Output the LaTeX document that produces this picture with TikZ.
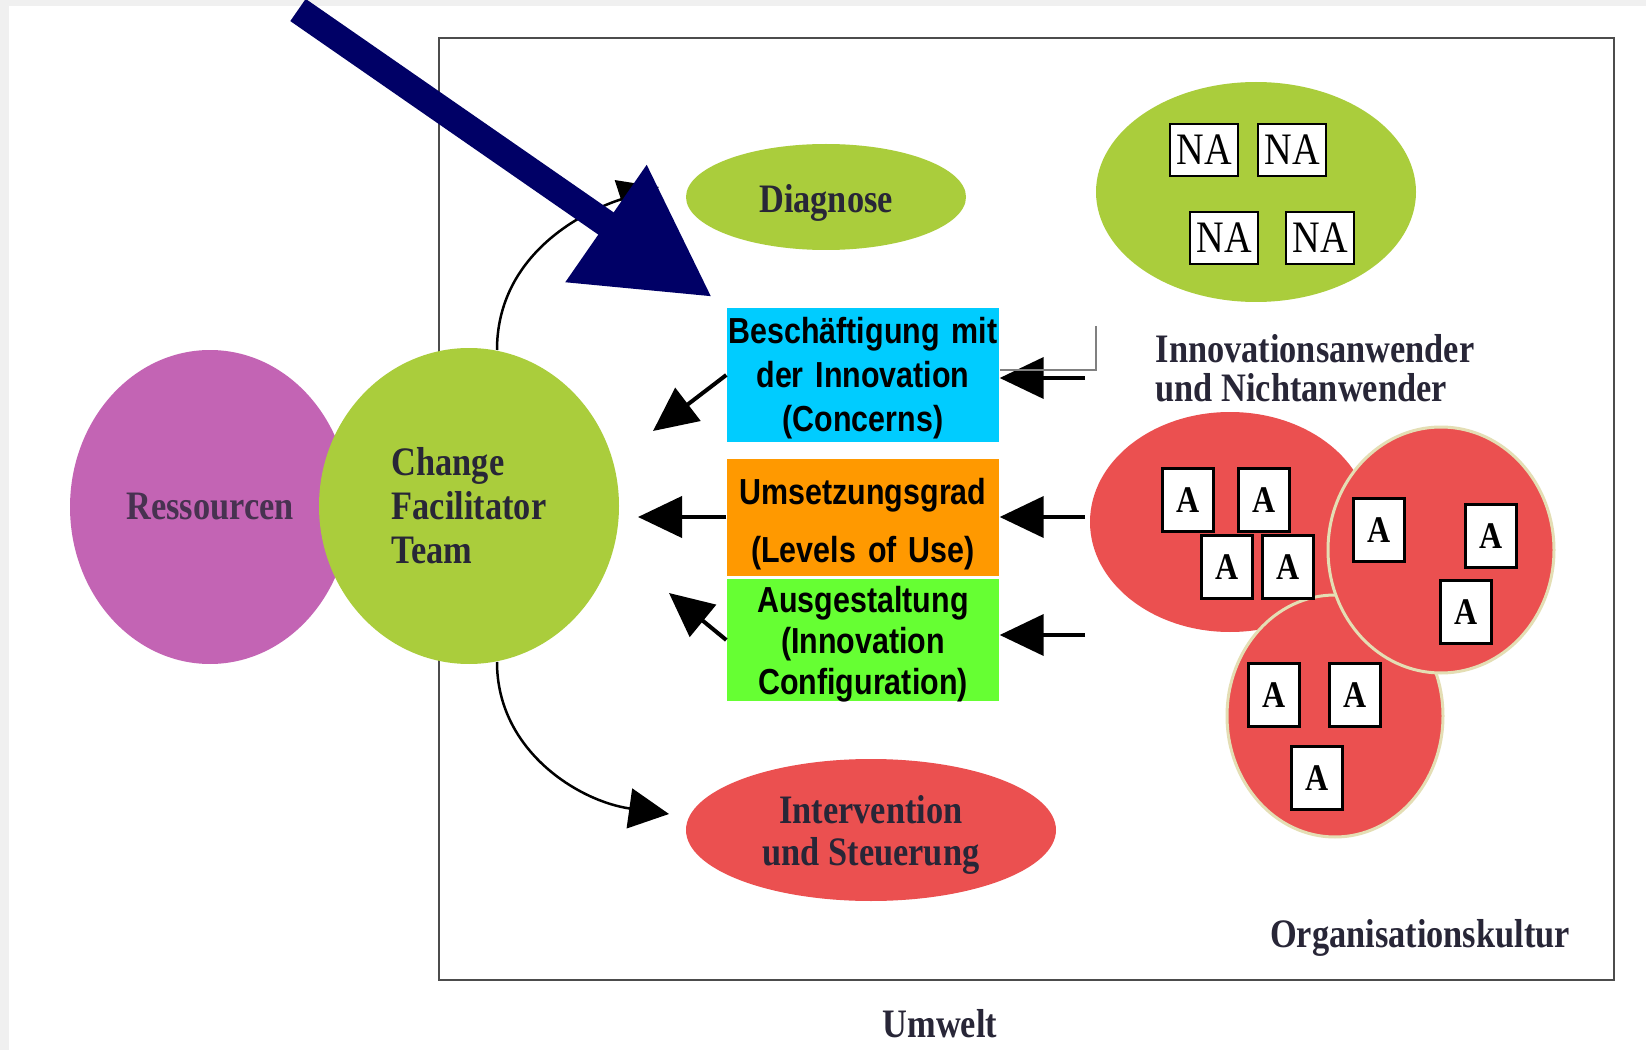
\documentclass[tikz,border=0pt]{standalone}
\usepackage{fontspec}
\setmainfont{Liberation Serif}[FakeStretch=0.85]
\newfontfamily\boxfont{Liberation Sans}[FakeStretch=0.84]
\usetikzlibrary{arrows.meta,shapes.geometric}
\definecolor{lila}{RGB}{195,100,180}
\definecolor{gelbgruen}{RGB}{170,205,60}
\definecolor{rot}{RGB}{235,80,80}
\definecolor{marine}{RGB}{0,0,102}
\definecolor{boxblau}{RGB}{0,204,255}
\definecolor{boxorange}{RGB}{255,153,0}
\definecolor{boxgruen}{RGB}{102,255,51}
\definecolor{schrift}{RGB}{40,38,55}
\definecolor{rand}{RGB}{228,222,180}
\begin{document}
\begin{tikzpicture}[x=0.1mm,y=-0.1mm,
  kreis/.style={ellipse,inner sep=0pt,text=schrift,font=\bfseries\fontsize{11.5}{12.5}\selectfont},
  gruppe/.style={ellipse,inner sep=0pt,fill=rot,draw=rand,line width=0.3mm},
  kasten/.style={draw=black,fill=white,line width=0.25mm,inner sep=0pt},
  nabox/.style={kasten,minimum width=6.8mm,minimum height=5.2mm,font=\fontsize{12.8}{13}\selectfont},
  abox/.style={kasten,minimum width=5.1mm,minimum height=6.3mm,font=\bfseries\fontsize{10.7}{11}\selectfont},
  feld/.style={inner sep=0pt,minimum width=27.2mm},
  feldtext/.style={inner sep=0pt,text width=27.2mm,align=center,font=\boxfont\bfseries\fontsize{10.3}{12.5}\selectfont},
  titel/.style={inner sep=0pt,text=schrift,font=\bfseries\fontsize{11.5}{11}\selectfont},
  pfeil/.style={line width=0.4mm,-{Triangle[length=4.4mm,width=4.1mm]}},
  bogen/.style={line width=0.25mm,-{Triangle[length=4mm,width=4mm]}}]
\useasboundingbox (0,0) rectangle (1646,1050);
\fill[gray!12] (0,0) rectangle (1646,1050);
\fill[white] (9,6) rectangle (1646,1050);

\draw[gray!60!black,line width=0.25mm] (439,38) rectangle (1614,980);

\coordinate (ob1) at (497,350);
\coordinate (ob2) at (659,187);
\coordinate (un1) at (497,662);
\coordinate (un2) at (669,814);
\draw[bogen] (ob1) to[out=90,in=198] (ob2);
\draw[bogen] (un1) to[out=-90,in=172] (un2);

\node[kreis,fill=lila,minimum width=28mm,minimum height=31.4mm,text=schrift!80!lila] (ress) at (210,507) {Ressourcen};
\node[kreis,fill=gelbgruen,minimum width=30mm,minimum height=31.6mm,align=left] (cft) at (469,506) {Change\\Facilitator\\Team};
\node[kreis,fill=gelbgruen,minimum width=28mm,minimum height=10.6mm] (diag) at (826,197) {};
\node[titel,yshift=-0.6mm] (diag-t) at (diag) {Diagnose};
\node[kreis,fill=rot,minimum width=37mm,minimum height=14.2mm] (interv) at (871,830) {};
\node[titel,yshift=-0.5mm,align=center,font=\bfseries\fontsize{11.5}{11.8}\selectfont] (interv-t) at (interv) {Intervention\\und Steuerung};

% Nichtanwender
\node[kreis,fill=gelbgruen,minimum width=32mm,minimum height=22mm] (nicht) at (1256,192) {};
\node[nabox] (na1) at (1204,150) {NA};
\node[nabox] (na2) at (1292,150) {NA};
\node[nabox] (na3) at (1224,238) {NA};
\node[nabox] (na4) at (1320,238) {NA};
\node[titel,anchor=west,align=left] (anw) at (1155,368) {Innovationsanwender\\und Nichtanwender};

% Anwender
\node[gruppe,draw=none,minimum width=28mm,minimum height=22mm] (gr1) at (1230,522) {};
\node[gruppe,minimum width=21.6mm,minimum height=24.2mm] (gr3) at (1335,716) {};
\node[gruppe,minimum width=22.6mm,minimum height=24.6mm] (gr2) at (1441,550) {};
\node[abox] (a1) at (1188,500) {A};
\node[abox] (a2) at (1264,500) {A};
\node[abox] (a3) at (1227,567) {A};
\node[abox] (a4) at (1288,567) {A};
\node[abox] (a5) at (1379,530) {A};
\node[abox] (a6) at (1491,536) {A};
\node[abox] (a7) at (1466,612) {A};
\node[abox] (a8) at (1274,695) {A};
\node[abox] (a9) at (1355,695) {A};
\node[abox] (a10) at (1317,778) {A};

\node[titel] (orgk) at (1420,938) {Organisationskultur};
\node[titel] (umw) at (940,1024) {Umwelt};

% Stufen
\node[feld,fill=boxblau,minimum height=13.4mm] (conc) at (863,375) {};
\node[feld,fill=boxorange,minimum height=11.7mm] (lou) at (863,517) {};
\node[feld,fill=boxgruen,minimum height=12.2mm] (konf) at (863,640) {};
\node[feldtext,yshift=-0.32mm] (conc-t) at (conc) {Beschäftigung mit\\der Innovation\\(Concerns)};
\node[feldtext,yshift=-0.74mm] (lou-t) at (lou) {Umsetzungsgrad\\[4pt](Levels of Use)};
\node[feldtext,yshift=-0.42mm,font=\boxfont\bfseries\fontsize{10.3}{11.6}\selectfont] (konf-t) at (konf) {Ausgestaltung\\(Innovation\\Configuration)};

\coordinate (lc) at (653,431);
\coordinate (ll) at (638,517);
\coordinate (lk) at (669,593);
\coordinate (rc) at (1085,378);
\coordinate (rl) at (1085,517);
\coordinate (rk) at (1085,635);
\draw[pfeil] (conc.west) -- (lc);
\draw[pfeil] (lou.west) -- (ll);
\draw[pfeil] (konf.west) -- (lk);
\draw[pfeil] (rc) -- (conc.east |- rc);
\draw[pfeil] (rl) -- (lou.east |- rl);
\draw[pfeil] (rk) -- (konf.east |- rk);
\draw[gray,line width=0.12mm] (1096,326) -- (1096,370) -- (1000,370);

\coordinate (start) at (298,10);
\coordinate (ziel) at (712,297);
\draw[marine,line width=2.7mm,-{Triangle[length=12.9mm,width=13.5mm]}] (start) -- (ziel);
\end{tikzpicture}
\end{document}
